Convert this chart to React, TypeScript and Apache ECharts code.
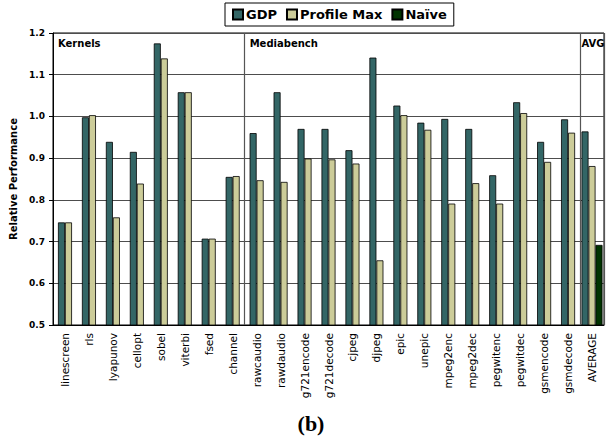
import React, { useEffect, useRef } from "react";
import * as echarts from "echarts";

// Benchmarks, in plotting order
const categories = [
  "linescreen", "rls", "lyapunov", "cellopt", "sobel", "viterbi", "fsed", "channel",
  "rawcaudio", "rawdaudio", "g721encode", "g721decode", "cjpeg", "djpeg", "epic",
  "unepic", "mpeg2enc", "mpeg2dec", "pegwitenc", "pegwitdec", "gsmencode", "gsmdecode",
  "AVERAGE",
];

// Relative performance per benchmark
const gdp = [
  0.746, 0.998, 0.939, 0.915, 1.175, 1.058, 0.707, 0.855,
  0.960, 1.058, 0.970, 0.970, 0.919, 1.141, 1.026, 0.985, 0.994, 0.970, 0.859, 1.034, 0.939, 0.993,
  0.964,
];
const profileMax = [
  0.746, 1.003, 0.758, 0.839, 1.139, 1.058, 0.707, 0.857,
  0.847, 0.843, 0.899, 0.897, 0.887, 0.655, 1.003, 0.968, 0.791, 0.840, 0.791, 1.008, 0.891, 0.961,
  0.881,
];
// Naïve is reported only for the average
const naiveAverage = 0.692;

// Benchmark suites: label and index of first benchmark
const groupNames = ["Kernels", "Mediabench", "AVG"];
const groupStarts = [0, 8, 22];

// Y axis
const yMin = 0.5;
const yMax = 1.2;
const yStep = 0.1;

const seriesNames = ["GDP", "Profile Max", "Naïve"];
const seriesColors = ["#336666", "#CCCC99", "#003300"];

const FONT = "DejaVu Sans";

export default function App() {
  const ref = useRef<HTMLDivElement>(null);

  useEffect(() => {
    if (!ref.current) return;
    const chart = echarts.init(ref.current, undefined, { renderer: "svg" });
    const last = categories.length - 1;

    // benchmarks share one axis; the average group (which also has Naïve)
    // uses an overlaid axis so its three bars are laid out on their own
    const perBench = (vals: number[]) => vals.map((v, i) => (i === last ? "-" : v));
    const avgOnly = (v: number) => categories.map((_, i) => (i === last ? v : "-"));

    const barStyle = (color: string) => ({
      color,
      borderColor: "#000",
      borderWidth: 0.8,
    });

    const series: any[] = [
      { name: seriesNames[0], data: perBench(gdp), xAxisIndex: 0, itemStyle: barStyle(seriesColors[0]) },
      { name: seriesNames[1], data: perBench(profileMax), xAxisIndex: 0, itemStyle: barStyle(seriesColors[1]) },
      { name: seriesNames[0], data: avgOnly(gdp[last]), xAxisIndex: 1, itemStyle: barStyle(seriesColors[0]) },
      { name: seriesNames[1], data: avgOnly(profileMax[last]), xAxisIndex: 1, itemStyle: barStyle(seriesColors[1]) },
      { name: seriesNames[2], data: avgOnly(naiveAverage), xAxisIndex: 1, itemStyle: barStyle(seriesColors[2]) },
    ].map((s) => ({ ...s, type: "bar", barWidth: 7, barGap: "0%", silent: true }));

    const gridLeft = 53;
    const gridTop = 33;
    const gridRight = 9;
    const gridBottom = 114;

    chart.setOption({
      animation: false,
      textStyle: { fontFamily: FONT },
      legend: {
        data: seriesNames,
        left: 225,
        top: 3,
        padding: [5, 7, 5, 7],
        itemGap: 9,
        itemWidth: 10,
        itemHeight: 10,
        icon: "rect",
        borderColor: "#000",
        borderWidth: 1,
        textStyle: { fontFamily: FONT, fontSize: 13, fontWeight: "bold", color: "#000", padding: [0, 0, 0, -2] },
      },
      grid: {
        left: gridLeft,
        top: gridTop,
        right: gridRight,
        bottom: gridBottom,
        show: true,
        borderColor: "#000",
        borderWidth: 1,
        containLabel: false,
      },
      xAxis: [
        {
          type: "category",
          data: categories,
          boundaryGap: true,
          axisLine: { lineStyle: { color: "#000", width: 1 } },
          axisTick: { interval: 0, length: 4, lineStyle: { color: "#000" } },
          axisLabel: {
            interval: 0,
            rotate: 90,
            margin: 8,
            fontFamily: FONT,
            fontSize: 10.5,
            color: "#000",
          },
          splitLine: {
            show: true,
            interval: (index: number) => groupStarts.includes(index) && index > 0,
            lineStyle: { color: "#555", width: 1.2 },
          },
        },
        {
          type: "category",
          data: categories,
          show: false,
        },
      ],
      yAxis: {
        type: "value",
        min: yMin,
        max: yMax,
        interval: yStep,
        name: "Relative Performance",
        nameLocation: "middle",
        nameGap: 30,
        nameTextStyle: { fontFamily: FONT, fontSize: 10, fontWeight: "bold", color: "#000" },
        axisLine: { show: true, lineStyle: { color: "#000", width: 1 } },
        axisTick: { show: true, length: 4, lineStyle: { color: "#000" } },
        axisLabel: {
          margin: 8,
          fontFamily: FONT,
          fontSize: 9,
          fontWeight: "bold",
          color: "#000",
          formatter: (v: number) => v.toFixed(1),
        },
        splitLine: { lineStyle: { color: "#4d4d4d", width: 1 } },
      },
      series,
    });

    // suite labels sit at the top-left of each suite's section
    const band = (chart.getWidth() - gridLeft - gridRight) / categories.length;
    const groupText = groupNames.map((name, gi) => {
      const bandLeft = (chart.convertToPixel({ xAxisIndex: 0 }, groupStarts[gi]) as number) - band / 2;
      const pad = gi === groupNames.length - 1 ? 1.5 : 5;
      return {
        type: "text",
        left: bandLeft + pad,
        top: gridTop + 5,
        style: { text: name, fontFamily: FONT, fontSize: 10, fontWeight: "bold", fill: "#000" },
        silent: true,
      };
    });

    chart.setOption({
      graphic: [
        ...groupText,
        {
          type: "text",
          x: 311,
          y: 423,
          style: {
            text: "(b)",
            fontFamily: "Liberation Serif",
            fontSize: 22,
            fontWeight: "bold",
            fill: "#000",
            align: "center",
            verticalAlign: "middle",
          },
          silent: true,
        },
      ],
    });

    return () => chart.dispose();
  }, []);

  return (
    <div
      ref={ref}
      style={{ position: "fixed", left: 0, top: 0, width: 613, height: 439, background: "#fff" }}
    />
  );
}
